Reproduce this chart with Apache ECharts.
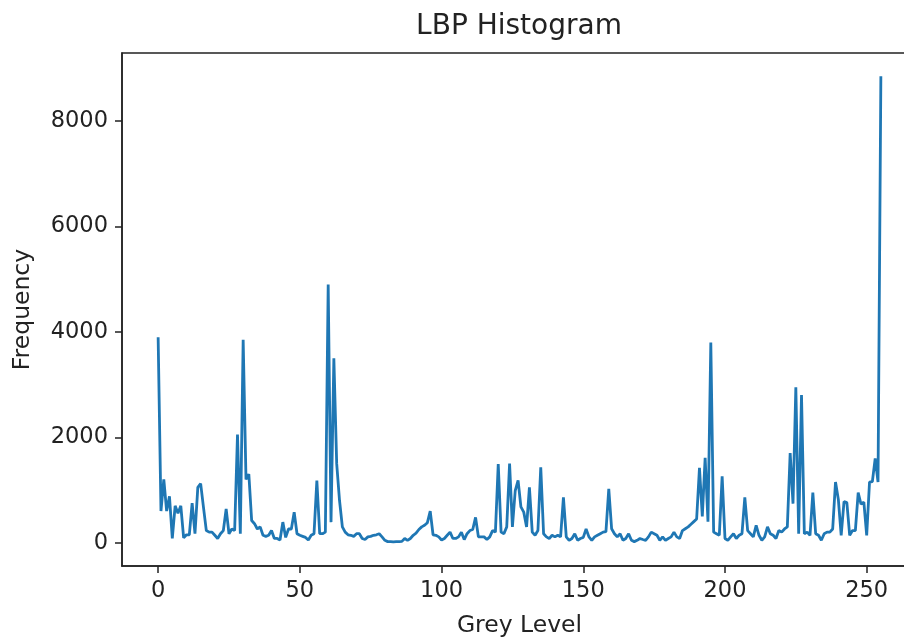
<!DOCTYPE html>
<html>
<head>
<meta charset="utf-8">
<title>LBP Histogram</title>
<script src="https://cdn.jsdelivr.net/npm/echarts@6/dist/echarts.min.js"></script>
<style>
  html, body { margin: 0; padding: 0; background: #fff; }
  #chart { width: 904px; height: 641px; }
</style>
</head>
<body>
<div id="chart"></div>
<script>
var myChart = echarts.init(document.getElementById('chart'));

// LBP code frequencies, bins 0..255
var frequency = [
  3900, 600, 1200, 600, 880, 80, 700, 560, 700, 90,
  150, 150, 750, 170, 1050, 1120, 670, 230, 200, 200,
  140, 80, 170, 230, 640, 170, 260, 230, 2050, 170,
  3850, 1200, 1300, 420, 360, 260, 300, 140, 120, 140,
  230, 80, 80, 50, 390, 100, 260, 260, 580, 170,
  140, 120, 100, 50, 140, 170, 1180, 170, 170, 200,
  4900, 390, 3500, 1500, 800, 300, 200, 150, 140, 120,
  170, 170, 80, 60, 110, 120, 140, 150, 170, 110,
  45, 20, 20, 15, 20, 20, 25, 80, 45, 80,
  140, 180, 250, 300, 330, 380, 600, 150, 140, 110,
  50, 80, 140, 200, 80, 80, 110, 200, 60, 170,
  230, 250, 480, 110, 110, 110, 60, 110, 230, 200,
  1490, 200, 170, 300, 1500, 300, 990, 1180, 680, 580,
  300, 1050, 200, 140, 230, 1430, 170, 110, 80, 140,
  110, 140, 110, 860, 110, 45, 80, 170, 45, 80,
  100, 260, 110, 45, 110, 140, 170, 200, 210, 1020,
  265, 170, 110, 170, 45, 80, 170, 45, 20, 45,
  80, 60, 45, 110, 200, 170, 140, 45, 110, 45,
  80, 110, 200, 110, 80, 230, 265, 300, 350, 400,
  450, 1420, 500, 1610, 400, 3800, 200, 170, 140, 1260,
  80, 45, 110, 170, 80, 140, 170, 860, 230, 170,
  110, 330, 140, 45, 110, 300, 170, 140, 80, 230,
  200, 260, 300, 1700, 740, 2950, 170, 2800, 170, 200,
  140, 950, 170, 140, 45, 170, 200, 200, 260, 1150,
  820, 140, 780, 760, 140, 230, 230, 950, 730, 770,
  140, 1150, 1160, 1600, 1150, 8850
];

var xTicks = [0, 50, 100, 150, 200, 250];
var yTicks = [0, 2000, 4000, 6000, 8000];

var points = frequency.map(function (v, i) { return [i, v]; });

// matplotlib style 5% margins
var xLast = frequency.length - 1;
var yMax = Math.max.apply(null, frequency);

var font = 'DejaVu Sans';
var ink = '#222';
var plain = function (v) { return String(v); };

var option = {
  backgroundColor: '#fff',
  animation: false,
  textStyle: { fontFamily: font },
  graphic: [{
    type: 'text',
    x: 519,
    y: 27,
    style: {
      text: 'LBP Histogram',
      fontFamily: font,
      fontSize: 28,
      fill: ink,
      textAlign: 'center',
      textVerticalAlign: 'middle'
    }
  }],
  // the original figure is cropped on the right, so the plot runs past the canvas
  grid: {
    left: 122,
    width: 795,
    top: 53,
    bottom: 75,
    show: true,
    borderColor: ink,
    borderWidth: 1.5,
    containLabel: false,
    outerBoundsMode: 'none'
  },
  xAxis: {
    type: 'value',
    min: -0.05 * xLast,
    max: 1.05 * xLast,
    name: 'Grey Level',
    nameLocation: 'middle',
    nameGap: 48,
    nameTextStyle: { fontFamily: font, fontSize: 23.5, color: ink },
    axisLine: { show: true, onZero: false, lineStyle: { color: ink, width: 1.5 } },
    axisTick: { show: true, length: 7, customValues: xTicks, lineStyle: { color: ink, width: 1.5 } },
    axisLabel: { customValues: xTicks, formatter: plain, margin: 14, fontFamily: font, fontSize: 22.5, color: ink },
    splitLine: { show: false }
  },
  yAxis: {
    type: 'value',
    min: -0.05 * yMax,
    max: 1.05 * yMax,
    name: 'Frequency',
    nameLocation: 'middle',
    nameRotate: 90,
    nameGap: 87,
    nameTextStyle: { fontFamily: font, fontSize: 23.5, color: ink },
    axisLine: { show: true, onZero: false, lineStyle: { color: ink, width: 1.5 } },
    axisTick: { show: true, length: 7, customValues: yTicks, lineStyle: { color: ink, width: 1.5 } },
    axisLabel: { customValues: yTicks, formatter: plain, margin: 14, fontFamily: font, fontSize: 22.5, color: ink },
    splitLine: { show: false }
  },
  series: [{
    name: 'LBP',
    type: 'line',
    data: points,
    showSymbol: false,
    lineStyle: { color: '#1f77b4', width: 2.8 },
    itemStyle: { color: '#1f77b4' }
  }]
};

myChart.setOption(option);
</script>
</body>
</html>
